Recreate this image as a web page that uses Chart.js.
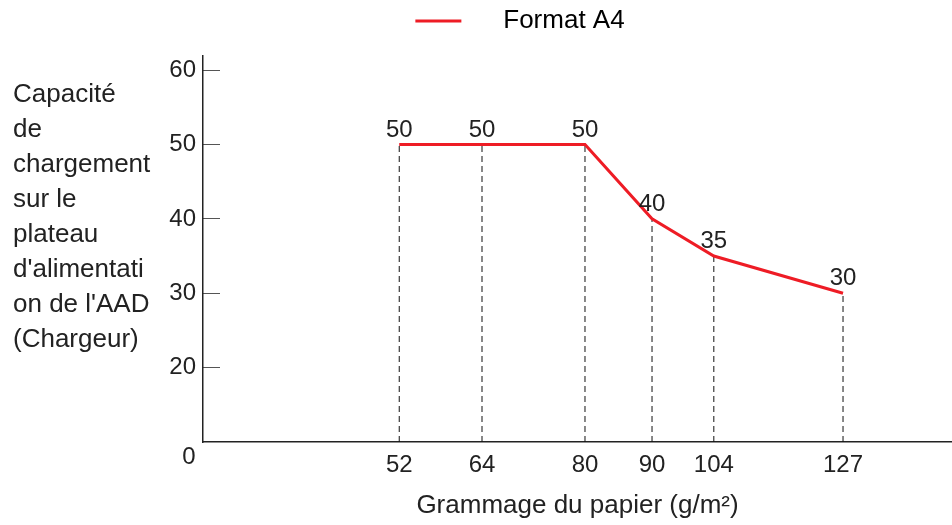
<!DOCTYPE html>
<html>
<head>
<meta charset="utf-8">
<title>Capacité de chargement</title>
<script src="https://cdn.jsdelivr.net/npm/chart.js@4/dist/chart.umd.min.js"></script>
<style>
    body { margin: 0; background: #fff; }
    #wrap { width: 952px; height: 525px; }
</style>
</head>
<body>
<div id="wrap"><canvas id="capChart" width="952" height="525"></canvas></div>
<script>
// Data
const seriesName = "Format A4";
const grammage = [52, 64, 80, 90, 104, 127];        // tick labels (g/m2)
const xSlot = [26.2, 37.25, 51.0, 59.95, 68.2, 85.45]; // where each grammage sits on the (non-linear) axis
const capacity = [50, 50, 50, 40, 35, 30];
const yTicks = [20, 30, 40, 50, 60];
const yTitle = ["Capacité", "de", "chargement", "sur le", "plateau", "d'alimentati", "on de l'AAD", "(Chargeur)"];
const xTitle = "Grammage du papier (g/m²)";

const FONT = "'Liberation Sans', Arial, sans-serif";
const TEXT = "#222";
const RED = "#ee1c25";
const Y_MIN = 10;

// Main line + one dashed drop line per point
const datasets = [{
    label: seriesName,
    data: xSlot.map((x, i) => ({ x, y: capacity[i] })),
    borderColor: RED,
    backgroundColor: RED,
    borderWidth: 3,
    pointRadius: 0,
    pointStyle: "line",
    order: 0,
}];
xSlot.forEach((x, i) => {
    datasets.push({
        label: "drop" + i,
        data: [{ x, y: Y_MIN }, { x, y: capacity[i] }],
        borderColor: "#111",
        borderWidth: 1,
        borderDash: [6, 4],
        pointRadius: 0,
        order: 1,
    });
});

// Extra text: value labels, y title, corner "0"
const extraText = {
    id: "extraText",
    afterDatasetsDraw(chart) {
        const { ctx, chartArea } = chart;
        ctx.save();
        ctx.fillStyle = TEXT;
        ctx.font = "24px " + FONT;

        // value labels above points
        ctx.textAlign = "center";
        ctx.textBaseline = "alphabetic";
        chart.getDatasetMeta(0).data.forEach((pt, i) => {
            ctx.fillText(String(capacity[i]), pt.x, pt.y - 8);
        });

        // corner zero
        ctx.textBaseline = "middle";
        ctx.fillText("0", chartArea.left - 14, chartArea.bottom + 15);

        // y title, horizontal, one chunk per line
        ctx.font = "26px " + FONT;
        ctx.textAlign = "left";
        yTitle.forEach((line, i) => {
            ctx.fillText(line, 13, 95 + i * 35);
        });
        ctx.restore();
    },
};

new Chart(document.getElementById("capChart"), {
    type: "line",
    data: { datasets },
    options: {
        responsive: false,
        animation: false,
        devicePixelRatio: 1,
        layout: { padding: { left: 88, top: 0, right: 0, bottom: 0 } },
        plugins: {
            tooltip: { enabled: false },
            legend: {
                display: true,
                position: "top",
                weight: 1000,
                labels: {
                    filter: (item) => item.datasetIndex === 0,
                    usePointStyle: true,
                    pointStyleWidth: 46,
                    boxHeight: 26,
                    padding: 8,
                    color: TEXT,
                    font: { family: FONT, size: 26 },
                    generateLabels: (chart) => [{
                        text: "    " + seriesName,
                        strokeStyle: RED,
                        fillStyle: RED,
                        lineWidth: 3,
                        pointStyle: "line",
                        datasetIndex: 0,
                    }],
                },
            },
            // empty title used only as a gap between legend and plot
            title: {
                display: true,
                text: "",
                position: "top",
                weight: 500,
                font: { size: 10, lineHeight: 1 },
                padding: { top: 1, bottom: 1 },
            },
        },
        scales: {
            x: {
                type: "linear",
                min: 0,
                max: 100,
                afterBuildTicks: (scale) => {
                    scale.ticks = xSlot.map((v) => ({ value: v }));
                },
                afterFit: (scale) => { scale.height = 83; },
                ticks: {
                    autoSkip: false,
                    maxRotation: 0,
                    padding: 9,
                    color: TEXT,
                    font: { family: FONT, size: 24 },
                    callback: (value, index) => grammage[index],
                },
                grid: { display: false, drawTicks: false },
                border: { display: true, color: "#222", width: 1.5 },
                title: {
                    display: true,
                    text: xTitle,
                    color: TEXT,
                    font: { family: FONT, size: 26 },
                    padding: { top: 0, bottom: 4 },
                },
            },
            y: {
                type: "linear",
                min: Y_MIN,
                max: 61.9,
                afterBuildTicks: (scale) => {
                    scale.ticks = yTicks.map((v) => ({ value: v }));
                },
                afterFit: (scale) => { scale.width = 115; },
                ticks: {
                    padding: 24,
                    color: TEXT,
                    font: { family: FONT, size: 24 },
                },
                grid: {
                    drawOnChartArea: false,
                    drawTicks: true,
                    tickLength: -17,
                    tickColor: "#555",
                    lineWidth: 1,
                },
                border: { display: true, color: "#222", width: 1.5 },
            },
        },
    },
    plugins: [extraText],
});
</script>
</body>
</html>
